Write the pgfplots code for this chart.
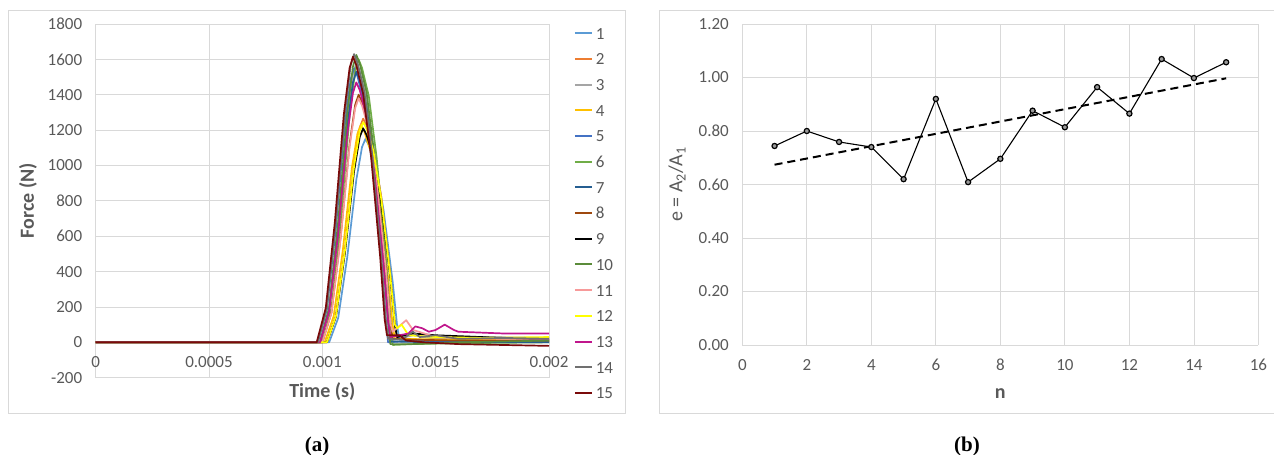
\documentclass[border=0pt]{standalone}
\usepackage{pgfplots}
\pgfplotsset{compat=1.18}
\usepackage{fontspec}
\setmainfont{Carlito}
\newfontfamily\capfont{Liberation Serif}
\definecolor{c1}{HTML}{5B9BD5}
\definecolor{c2}{HTML}{ED7D31}
\definecolor{c3}{HTML}{A5A5A5}
\definecolor{c4}{HTML}{FFC000}
\definecolor{c5}{HTML}{4472C4}
\definecolor{c6}{HTML}{70AD47}
\definecolor{c7}{HTML}{255E91}
\definecolor{c8}{HTML}{9E480E}
\definecolor{c9}{HTML}{000000}
\definecolor{c10}{HTML}{5B8C3A}
\definecolor{c11}{HTML}{F79A9A}
\definecolor{c12}{HTML}{FFFF00}
\definecolor{c13}{HTML}{C0168C}
\definecolor{c14}{HTML}{707070}
\definecolor{c15}{HTML}{7A0A0A}
\definecolor{gridgray}{HTML}{D9D9D9}
\definecolor{labgray}{HTML}{595959}
\definecolor{framegray}{HTML}{D9D9D9}
\pgfplotsset{
  exstyle/.style={
    scale only axis,
    grid=major,
    major grid style={draw=gridgray, line width=0.8bp},
    axis line style={draw=none},
    tick style={draw=none},
    ticklabel style={font=\fontsize{17bp}{20bp}\selectfont, text=labgray},
    /pgf/number format/assume math mode=true,
    /pgf/number format/1000 sep={},
    label style={font=\fontsize{20bp}{24bp}\selectfont, text=labgray},
  }
}
\begin{document}
\begin{tikzpicture}
\useasboundingbox (0,0) rectangle (1274bp,-455bp);
\draw[framegray, line width=0.8bp] (8.3bp,-10.7bp) rectangle (625.7bp,-413.3bp);
\draw[framegray, line width=0.8bp] (1274bp,-10.7bp) -- (659.3bp,-10.7bp) -- (659.3bp,-413.3bp) -- (1274bp,-413.3bp);
\node[anchor=base, font=\capfont\bfseries\fontsize{21bp}{24bp}\selectfont] at (317bp,-451bp) {(a)};
\node[anchor=base, font=\capfont\bfseries\fontsize{21bp}{24bp}\selectfont] at (967bp,-451bp) {(b)};

\begin{axis}[exstyle,
  at={(95.7bp,-377.7bp)}, anchor=south west,
  width=453.3bp, height=353.7bp,
  xmin=0, xmax=0.002, ymin=-200, ymax=1800,
  scaled x ticks=false,
  xtick={0,0.0005,0.001,0.0015,0.002},
  xticklabels={0,0.0005,0.001,0.0015,0.002},
  ytick={-200,0,200,400,600,800,1000,1200,1400,1600,1800},
  yticklabel style={xshift=-10bp},
  xticklabel style={yshift=24.4bp},
  xlabel={\bfseries Time (s)},
  ylabel={\bfseries Force (N)},
  xlabel style={at={(axis description cs:0.5,-0.0404)}, anchor=center},
  ylabel style={at={(axis description cs:-0.1494,0.5)}, anchor=center, rotate=0},
  legend style={at={(axis description cs:1.048,1.0)}, anchor=north west, draw=none, fill=none,
    font=\fontsize{17bp}{20bp}\selectfont, text=labgray, row sep=12.85bp,
    nodes={inner sep=0bp, text height=12.85bp, text depth=0bp}},
  legend cell align=left,
  legend image code/.code={\draw[#1, line width=2bp] (0bp,-0.5bp) -- (17bp,-0.5bp);},
  every axis plot/.append style={line width=1.7bp, line join=round},
]
\addplot[c1] coordinates {(0,0) (0.00103,0) (0.00107,138) (0.00111,483) (0.00115,920) (0.001175,1104) (0.00119,1150) (0.001205,1116) (0.001235,1001) (0.00127,748) (0.00131,345) (0.00133,92) (0.00134,15) (0.0016,10) (0.002,10)};
\addlegendentry{\,1}
\addplot[c2] coordinates {(0,0) (0.00102,0) (0.00106,152) (0.0011,531) (0.00114,1012) (0.001165,1214) (0.00118,1265) (0.001195,1227) (0.001225,1101) (0.00126,822) (0.0013,380) (0.00132,101) (0.00133,20) (0.0015,10) (0.002,5)};
\addlegendentry{\,2}
\addplot[c3] coordinates {(0,0) (0.00099,0) (0.00103,190) (0.00107,664) (0.00111,1264) (0.001135,1517) (0.00115,1580) (0.001165,1533) (0.001195,1375) (0.00123,1027) (0.00127,474) (0.00129,126) (0.0013,10) (0.0014,40) (0.0015,20) (0.0017,30) (0.002,25)};
\addlegendentry{\,3}
\addplot[c4] coordinates {(0,0) (0.00101,0) (0.00105,148) (0.00109,517) (0.00113,984) (0.001155,1181) (0.00117,1230) (0.001185,1193) (0.001215,1070) (0.00125,800) (0.00129,369) (0.00131,98) (0.00132,20) (0.0016,15) (0.002,10)};
\addlegendentry{\,4}
\addplot[c5] coordinates {(0,0) (0.00098,0) (0.00102,186) (0.00106,651) (0.0011,1240) (0.001125,1488) (0.00114,1550) (0.001155,1504) (0.001185,1349) (0.00122,1008) (0.00126,465) (0.00128,124) (0.00129,0) (0.0014,10) (0.0016,5) (0.002,5)};
\addlegendentry{\,5}
\addplot[c6] coordinates {(0,0) (0.001,0) (0.00104,192) (0.00108,672) (0.00112,1280) (0.001145,1536) (0.00116,1600) (0.001175,1552) (0.001205,1392) (0.00124,1040) (0.00128,480) (0.0013,128) (0.00131,-15) (0.0014,-10) (0.0016,-5) (0.002,0)};
\addlegendentry{\,6}
\addplot[c7] coordinates {(0,0) (0.00099,0) (0.00103,184) (0.00107,643) (0.00111,1224) (0.001135,1469) (0.00115,1530) (0.001165,1484) (0.001195,1331) (0.00123,995) (0.00127,459) (0.00129,122) (0.0013,5) (0.0015,0) (0.002,0)};
\addlegendentry{\,7}
\addplot[c8] coordinates {(0,0) (0.001,0) (0.00104,168) (0.00108,588) (0.00112,1120) (0.001145,1344) (0.00116,1400) (0.001175,1358) (0.001205,1218) (0.00124,910) (0.00128,420) (0.0013,112) (0.00131,20) (0.0014,15) (0.0016,10) (0.002,10)};
\addlegendentry{\,8}
\addplot[c9] coordinates {(0,0) (0.00102,0) (0.00106,145) (0.0011,508) (0.00114,968) (0.001165,1162) (0.00118,1210) (0.001195,1174) (0.001225,1053) (0.00126,787) (0.0013,363) (0.00132,97) (0.00133,30) (0.0014,50) (0.0015,40) (0.0017,30) (0.002,15)};
\addlegendentry{\,9}
\addplot[c10] coordinates {(0,0) (0.00099,0) (0.00103,195) (0.00107,683) (0.00111,1300) (0.001135,1560) (0.00115,1625) (0.001165,1576) (0.001195,1414) (0.00123,1056) (0.00127,488) (0.00129,130) (0.0013,-10) (0.0014,-10) (0.0016,0) (0.0018,5) (0.002,10)};
\addlegendentry{\,10}
\addplot[c11] coordinates {(0,0) (0.001,0) (0.00104,166) (0.00108,580) (0.00112,1104) (0.001145,1325) (0.00116,1380) (0.001175,1339) (0.001205,1201) (0.00124,897) (0.00128,414) (0.0013,110) (0.00131,60) (0.00137,125) (0.0014,70) (0.00145,50) (0.0015,30) (0.0016,25) (0.0018,20) (0.002,20)};
\addlegendentry{\,11}
\addplot[c12] coordinates {(0,0) (0.00102,0) (0.00106,149) (0.0011,523) (0.00114,996) (0.001165,1195) (0.00118,1245) (0.001195,1208) (0.001225,1083) (0.00126,809) (0.0013,374) (0.00132,100) (0.00133,80) (0.00135,100) (0.00138,40) (0.0015,30) (0.0017,25) (0.002,30)};
\addlegendentry{\,12}
\addplot[c13] coordinates {(0,0) (0.00099,0) (0.00103,176) (0.00107,617) (0.00111,1176) (0.001135,1411) (0.00115,1470) (0.001165,1426) (0.001195,1279) (0.00123,956) (0.00127,441) (0.00129,118) (0.0013,30) (0.00138,50) (0.00141,90) (0.00144,80) (0.00147,60) (0.0015,70) (0.00154,100) (0.00158,70) (0.0016,60) (0.0018,50) (0.002,50)};
\addlegendentry{\,13}
\addplot[c14] coordinates {(0,0) (0.00098,0) (0.00102,196) (0.00106,685) (0.0011,1304) (0.001125,1565) (0.00114,1630) (0.001155,1581) (0.001185,1418) (0.00122,1060) (0.00126,489) (0.00128,130) (0.00129,20) (0.00135,15) (0.0014,60) (0.00143,30) (0.0015,40) (0.0016,20) (0.0018,25) (0.002,20)};
\addlegendentry{\,14}
\addplot[c15] coordinates {(0,0) (0.000975,0) (0.001015,194) (0.001055,678) (0.001095,1292) (0.00112,1550) (0.001135,1615) (0.00115,1567) (0.00118,1405) (0.001215,1050) (0.001255,485) (0.001275,129) (0.001285,40) (0.00134,40) (0.00137,10) (0.00145,0) (0.0016,-10) (0.0018,-15) (0.002,-20)};
\addlegendentry{\,15}
\end{axis}

\begin{axis}[exstyle,
  at={(742.3bp,-345bp)}, anchor=south west,
  width=516.1bp, height=321bp,
  xmin=0, xmax=16, ymin=0, ymax=1.2,
  xtick={0,2,...,16},
  ytick={0,0.2,0.4,0.6,0.8,1.0,1.2},
  yticklabel style={xshift=-10bp, /pgf/number format/.cd, fixed, fixed zerofill, precision=2},
  xticklabel style={yshift=-10.7bp},
  xlabel={\bfseries n},
  ylabel={e = A\textsubscript{2}/A\textsubscript{1}},
  xlabel style={at={(axis description cs:0.5,-0.1505)}, anchor=center},
  ylabel style={at={(axis description cs:-0.1265,0.5)}, anchor=center},
]
\addplot[black, line width=1.1bp, mark=*, mark size=2.6bp, mark options={fill=black!40, draw=black, line width=1.2bp}] coordinates {(1,0.744) (2,0.800) (3,0.759) (4,0.740) (5,0.620) (6,0.920) (7,0.609) (8,0.696) (9,0.876) (10,0.814) (11,0.964) (12,0.865) (13,1.069) (14,0.998) (15,1.057)};
\addplot[black, line width=2bp, dash pattern=on 8bp off 5bp] coordinates {(1,0.674) (15,0.997)};
\end{axis}
\end{tikzpicture}
\end{document}
